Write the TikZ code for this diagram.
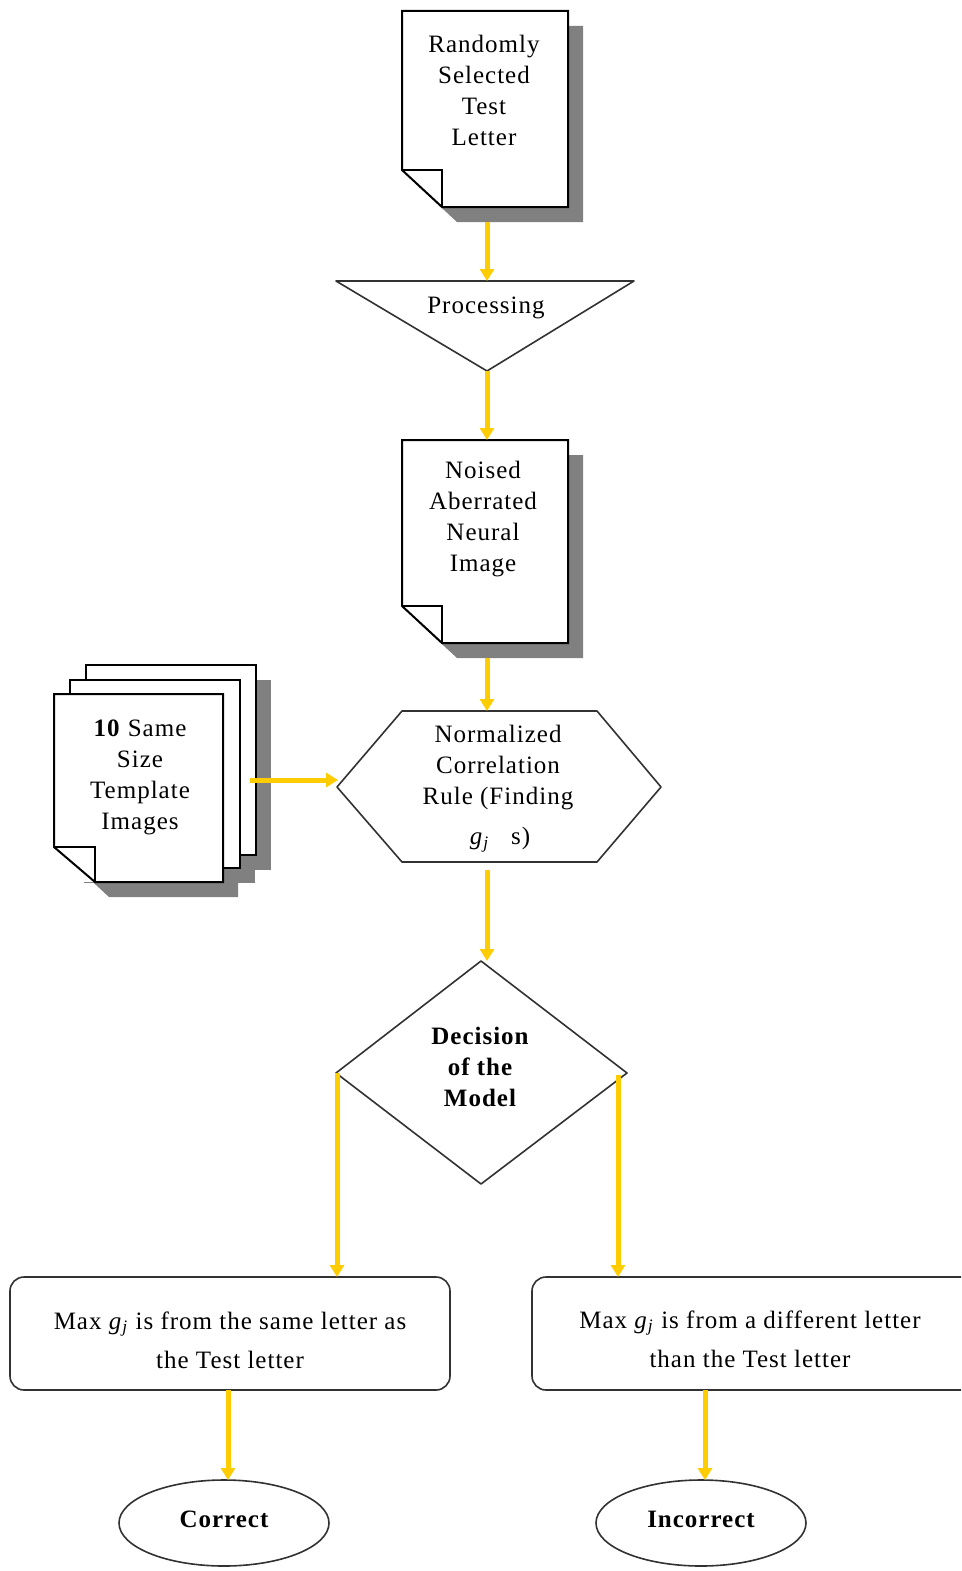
\documentclass[tikz,border=0pt]{standalone}
\usepackage{fontspec}
\setmainfont[LetterSpace=4]{Liberation Serif}
\usetikzlibrary{arrows.meta}
\definecolor{gold}{RGB}{255,204,0}
\definecolor{shadowgray}{RGB}{128,128,128}
\definecolor{edge}{RGB}{50,50,50}
\tikzset{
  flow/.style={draw=gold,line width=5pt,-{Triangle[length=12pt,width=14pt]}},
  docline/.style={draw=black,line width=2pt,line join=miter},
  shapeline/.style={draw=edge,line width=1.6pt,fill=white,line join=round},
  txt/.style={align=center,font=\fontsize{25}{31}\selectfont,inner sep=0pt},
  btxt/.style={align=center,font=\fontsize{25}{31}\selectfont\bfseries,inner sep=0pt}
}
\newcommand\gj{\textit{g}\textsubscript{\textit{j}}}
\newcommand\mydocument[4]{%
  \fill[shadowgray] (#1+15,#2+15) -- (#3+15,#2+15) -- (#3+15,#4+15) -- (#1+55,#4+15) -- (#1+15,#4-22) -- cycle;
  \draw[docline,fill=white] (#1,#2) -- (#3,#2) -- (#3,#4) -- (#1+40,#4) -- (#1,#4-37) -- cycle;
  \draw[docline] (#1,#4-37) -- (#1+40,#4-37) -- (#1+40,#4);
}
\begin{document}
\begin{tikzpicture}[x=1pt,y=-1pt]
\clip (0,0) rectangle (961,1571);
\fill[white] (0,0) rectangle (961,1571);

% document 1
\mydocument{402}{11}{568}{207}
\node[txt] (doc1) at (484,90) {Randomly\\Selected\\Test\\Letter};
\coordinate (doc1b) at (487,222);

% processing triangle
\draw[shapeline] (336,281) -- (634,281) -- (487,371) -- cycle;
\node[txt] (proc) at (486,308) {Processing};
\coordinate (tritop) at (487,281);
\coordinate (tribot) at (487,371);

% document 2
\mydocument{402}{440}{568}{643}
\node[txt] (doc2) at (483,519) {Noised\\Aberrated\\Neural\\Image};
\coordinate (doc2t) at (487,440);
\coordinate (doc2b) at (487,658);

% stack of template documents
\fill[shadowgray] (101,680) rectangle (271,870);
\fill[shadowgray] (84,695) rectangle (255,883);
\fill[shadowgray] (69,709) -- (238,709) -- (238,897) -- (109,897) -- (69,860) -- cycle;
\draw[docline,fill=white] (86,665) rectangle (256,855);
\draw[docline,fill=white] (70,680) rectangle (240,868);
\fill[white] (54,694) rectangle (223,882);
\draw[docline] (54,694) -- (223,694) -- (223,882) -- (95,882) -- (54,847) -- cycle;
\draw[docline] (54,847) -- (95,847) -- (95,882);
\node[txt] (stack) at (140,777) {\textbf{10} Same\\Size\\Template\\Images};
\coordinate (stackr) at (250,780);

% hexagon
\draw[shapeline] (337,787) -- (402,711) -- (597,711) -- (661,787) -- (597,862) -- (402,862) -- cycle;
\node[txt] (hex) at (498,768) {Normalized\\Correlation\\Rule (Finding};
\node[txt] (hexg) at (500,840) {\gj\ \ \ s)};
\coordinate (hext) at (487,711);
\coordinate (hexl) at (338,780);
\coordinate (hexb) at (487,870);

% diamond
\draw[shapeline] (481,961) -- (627,1073) -- (481,1184) -- (336,1073) -- cycle;
\node[btxt] (dec) at (480,1067) {Decision\\of the\\Model};
\coordinate (diat) at (487,961);
\coordinate (dial) at (337,1073);
\coordinate (diar) at (618,1075);

% result boxes
\draw[shapeline,rounded corners=14pt] (10,1277) rectangle (450,1390);
\node[txt] (res1) at (230,1340) {Max \gj\ is from the same letter as\\[8pt]the Test letter};
\draw[shapeline,rounded corners=14pt] (532,1277) rectangle (990,1390);
\node[txt] (res2) at (750,1339) {Max \gj\ is from a different letter\\[8pt]than the Test letter};
\coordinate (r1t) at (337,1277);
\coordinate (r2t) at (618,1277);
\coordinate (r1b) at (228,1390);
\coordinate (r2b) at (705,1390);

% end ellipses
\draw[shapeline] (224,1523) ellipse [x radius=105, y radius=43];
\node[btxt] (corr) at (224,1519) {Correct};
\draw[shapeline] (701,1523) ellipse [x radius=105, y radius=43];
\node[btxt] (inc) at (701,1519) {Incorrect};
\coordinate (e1t) at (228,1480);
\coordinate (e2t) at (705,1480);

% connectors
\draw[flow] (doc1b) -- (tritop);
\draw[flow] (tribot) -- (doc2t);
\draw[flow] (doc2b) -- (hext);
\draw[flow] (stackr) -- (hexl);
\draw[flow] (hexb) -- (diat);
\draw[flow] (dial) -- (r1t);
\draw[flow] (diar) -- (r2t);
\draw[flow] (r1b) -- (e1t);
\draw[flow] (r2b) -- (e2t);
\end{tikzpicture}
\end{document}
